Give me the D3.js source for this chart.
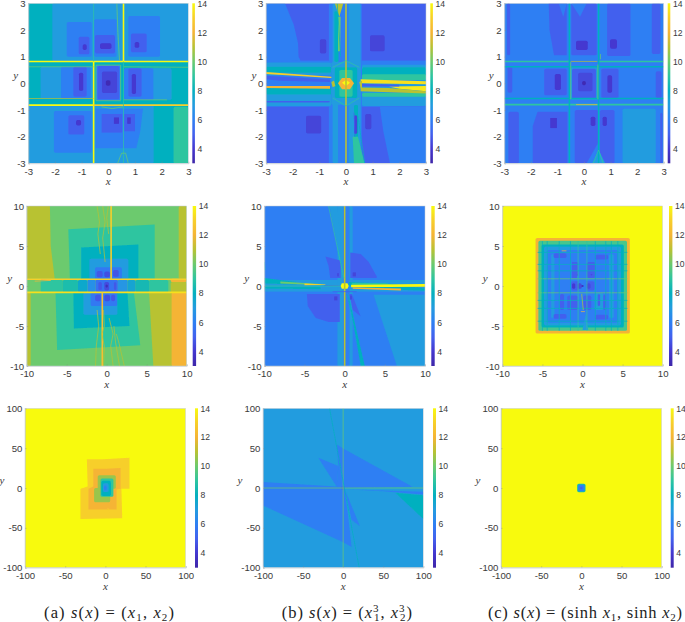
<!DOCTYPE html>
<html><head><meta charset="utf-8">
<script src="https://cdn.jsdelivr.net/npm/d3@7/dist/d3.min.js"></script>
<style>html,body{margin:0;padding:0;background:#fff}svg{display:block}</style>
</head><body><svg id="c" width="685" height="622"></svg>
<script>
// value -> colour (parula-like)
const colorValues=[3,4,5,6,7,8,9,10,11,12,13,14];
const colorStops=["#3e26a8","#4437d0","#4361ee","#2e7ff3","#239cdf","#04b0bf","#2ec5a0","#6cca6e","#b8c233","#f5b436","#f7cf2a","#f8fa0f"];
const colorTicks=[4,6,8,10,12,14];
const ticksSmall=[-3,-2,-1,0,1,2,3], ticksMid=[-10,-5,0,5,10], ticksBig=[-100,-50,0,50,100];

// Each region: [level, x0, x1, y0, y1]; each polygon: [level, points]; each line: [level, points]
const a1Rects=[[8,-3,3,-3,3],[7,-2.1,3,.82,3],[6,-1.56,-.62,1,2.3],[6,-.54,.31,1,2.4],[6,.75,1.94,1,2.52],[5,-1.11,-.71,1.09,1.75],[5,-.5,.25,1.12,1.81],[5,.85,1.44,1.16,1.87],[4,-.96,-.81,1.25,1.46],[4,-.31,.12,1.29,1.5],[4,.99,1.16,1.33,1.55],
[7,-2.54,-.55,-.57,.62],[6,-1.77,-.66,-.57,.62],[5,-1.31,-.81,-.5,.62],[4,-1.1,-.94,-.28,.4],[6,-.46,.46,-.65,.68],[5,-.4,.41,-.6,.65],[4.3,-.24,.33,-.36,.44],[3.3,-.09,.08,-.09,.11],
[7,.59,2.37,-.62,.56],[6,.59,1.69,-.62,.56],[5,.75,1.25,-.5,.56],[4,.88,1.04,-.4,.35],
[7,-3,1.7,-3,-.82],[9,2.45,3,-3,-.88],[6,-2.04,-.62,-2.6,-1.04],[5,-1.5,-.9,-1.92,-1.2],[4,-1.21,-1.02,-1.58,-1.38]];
const a1Polys=[[6,[[-.48,-.95],[1.3,-.95],[1.2,-1.8],[1.05,-2.44],[-.48,-2.44]]],[5,[[-.25,-1.15],[.52,-1.15],[.52,-1.85],[-.25,-1.85]]],[5,[[.6,-1.15],[1,-1.15],[1,-1.8],[.6,-1.8]]],[4,[[.21,-1.28],[.4,-1.28],[.4,-1.52],[.21,-1.52]]],[4,[[.71,-1.28],[.84,-1.28],[.84,-1.52],[.71,-1.52]]]];
const a1Thick=[[14,[[-3,.82],[3,.82]]],[14,[[-3,-.82],[-.55,-.82]]],[13,[[.55,-.82],[3,-.82]]],[14,[[.57,3],[.57,.82]]],[14,[[-.55,.82],[-.55,-3]]],[13,[[-.55,-.82],[.55,-.82]]]];
const a1Thin=[[10,[[-3,.62],[-.55,.62]]],[10,[[.57,.62],[3,.6]]],[11,[[-3,-.57],[-.55,-.57]]],[10,[[.57,-.62],[2.2,-.62]]],[9,[[-.55,3],[-.55,.82]]],[9,[[.57,.82],[.57,-3]]],[10,[[.32,3],[.36,1.9],[.42,.85]]],[10,[[-.46,.68],[.46,.68],[.46,-.65],[-.46,-.65],[-.46,.68]]],[10,[[.35,-3],[.5,-2.62],[.65,-2.62],[.75,-3]]],[10,[[-.25,-.88],[.15,-.95],[.55,-.88]]]];
const a1Inner=[];

const a2Rects=[[5,-3,3,-3,3],[6,-3,3,-.88,.85],[6,-.64,.59,-3,3],[7,-.5,-.3,-3,3],[7,.1,.55,-3,3],[8,-.44,-.28,.8,2.7],[8,.3,.45,-3,-.8],[7,-3,-.55,.3,.78],[8,-3,-.55,.4,.62],[7,.6,3,-.85,.7],[8,.6,3,.2,.6],[9,.6,3,.12,.34],[7,-3,-.55,-.85,-.2],[8,-3,-.55,-.42,-.18],[9,.6,3,-.5,-.36],[4.3,-.98,-.74,1.12,1.65],[4.3,.9,1.45,1.2,1.8],[4.3,-1.5,-.93,-1.88,-1.22],[4.3,.72,.95,-1.72,-1.15],[4.3,.3,.42,-1.9,-1.2],[5,-3,-.6,-.72,-.66],[7,-.55,.55,-.8,.8],[8,-.42,.42,-.55,.6],[9,-.25,.25,-.5,.5]];
const a2Polys=[[6,[[-3,3],[-2.29,3],[-1.96,2.2],[-1.8,1.5],[-1.78,1],[-1.7,.85],[-3,.82]]],[6,[[1.27,-.88],[1.4,-1.8],[1.65,-3],[3,-3],[3,-.88]]],[11,[[-.42,3],[-.1,3],[-.25,2.5]]],[9,[[.3,-3],[.7,-3],[.45,-2],[.25,-2]]],[10,[[-.3,2.5],[-.2,2.5],[-.22,1.2],[-.3,1.2]]],[13,[[-3,.35],[-.55,.2],[-.55,.25],[-3,.42]]],[5,[[-3,.28],[-.6,.14],[-.6,.05],[-2.5,.1],[-3,.15]]],[13.4,[[.55,.15],[3,.08],[3,-.04],[.55,0]]],[13.6,[[1.6,-.12],[3,-.1],[3,-.3],[2,-.2]]],[5,[[.6,-.02],[2,-.05],[2,-.12],[.6,-.12]]],[11,[[.55,-.16],[1.6,-.18],[3,-.3],[3,-.38],[.55,-.3]]],[12,[[-3,-.1],[-.6,-.1],[-.6,-.2],[-3,-.18]]],[11,[[-.55,.05],[-.5,-.15],[-.4,-.1],[-.45,.1]]],[11,[[.5,.05],[.55,-.2],[.6,-.15],[.6,.1]]],[12,[[-.3,0],[-.15,.2],[.15,.2],[.3,0],[.15,-.22],[-.15,-.22]]],[14,[[-.15,.02],[0,.12],[.15,.02],[0,-.1]]]];
const a2Thick=[[11,[[0,3],[0,-3]]]];
const a2Thin=[[8,[[-.33,3],[-.2,1]]],[8,[[.4,-.9],[.7,-3]]],[9,[[-.5,.6],[0,.85],[.5,.6]]],[9,[[-.5,-.55],[0,-.85],[.5,-.55]]],[5,[[.3,-1.1],[.34,-2]]]];
const a2Inner=[];

const a3Rects=[[6,-3,3,-3,3],[5,-2.9,-2.78,1.05,3],[5,-.48,.48,1.05,3],[5,.87,1.75,1.02,3],[5,2.55,2.88,1.1,3],[4,-.95,-.78,1.22,1.52],[4,-.3,.14,1.25,1.6],[4,.98,1.24,1.3,1.65],[5,-2.88,-2.7,-.35,.62],[5,-1.5,-.65,-.45,.55],[4,-1.1,-.87,-.25,.35],[7,-.52,.52,-.62,.6],[5,-.45,.45,-.58,.55],[4.4,-.22,.32,-.3,.4],[3.3,-.07,.07,-.07,.09],[5,.65,1.3,-.55,.55],[4,.88,1.06,-.35,.3],[5,2.7,2.92,-.55,.45],[5,-2.85,-2.45,-3,-1.07],[5,-.35,.55,-3,-1],[5,.6,1.15,-3,-1],[4,.25,.43,-1.6,-1.25],[4,.7,.86,-1.6,-1.25],[7,1.45,2.7,-3,-.95],[5,2.87,2.95,-3,-1.1]];
const a3Polys=[[5,[[-1.33,3],[-.65,3],[-.65,1.05],[-1.13,1.05],[-1.3,2]]],[6,[[-.95,3],[-.65,3],[-.78,2.5]]],[6,[[-.48,3],[.1,3],[-.15,2.5]]],[5,[[-1.93,-3],[-.62,-3],[-.62,-1.07],[-1.75,-1.07],[-1.93,-1.6]]],[4,[[-1.27,-1.3],[-1.02,-1.3],[-1.02,-1.68],[-1.27,-1.68]]],[6,[[.1,-3],[.55,-2.2],[.55,-3]]],[7,[[.3,-3],[.55,-2.5],[.8,-3]]],[6,[[-.05,-3],[.1,-2]]]];
const a3Thick=[[9,[[-3,.82],[-.55,.82]]],[9,[[.55,.82],[3,.82]]],[9,[[-3,-.8],[3,-.8]]],[8,[[-3,.62],[3,.62]]],[8,[[-3,-.57],[3,-.57]]],[8,[[-.55,3],[-.55,-3]]],[8,[[.55,3],[.55,-3]]]];
const a3Thin=[[11,[[-.5,.82],[.5,.82]]],[12,[[-.3,-.8],[.5,-.8]]],[10,[[-.5,.8],[-.5,-.6]]],[10,[[.52,.7],[.52,-.6]]],[10,[[.62,1.1],[.62,.9]]],[9,[[.55,-2.5],[.35,-3]]],[9,[[.55,-2.5],[.72,-3]]]];
const a3Inner=[];

const b1Rects=[[10,-10,10,-10,10],[11,-10,-9.5,-10,-.8],[11,9,10,.9,10],[12,8.05,10,-10,-.8],[12,8,10,.5,.9],[11,8,10,-.8,.5],[9,-8.25,-5.5,-.8,.75],[8.6,-5.5,-3.6,-.8,.75],[9,5.3,7.7,-.8,.75],[8.4,3.6,5.3,-.8,.75],[7.6,-3.6,-2.4,-.8,.75],[7.4,2.6,3.6,-.8,.75],[6.6,-2.4,-1.4,-.8,.8],[6.8,1.4,2.6,-.8,.8],[5.6,-1.4,1.4,-.8,.8],[4.8,-1.05,-.6,-.5,.5],[4.5,-.3,.3,-.55,.5],[4.8,.9,1.2,-.5,.5],[3.4,-.15,.15,-.2,.2]];
const b1Polys=[[11,[[-10,10],[-7.1,10],[-7,5],[-6.5,.9],[-10,.9]]],[11,[[5.3,-.8],[8.1,-.8],[8.1,-10],[5.83,-10]]],[9,[[-4.8,7.1],[6,7.7],[6,.9],[-4.6,.9]]],[8,[[-3.2,4.8],[3.96,5.2],[3.96,.9],[-3.2,.9]]],[9,[[-6.4,-.8],[3.4,-.8],[4.2,-7.4],[-6.2,-8]]],[8,[[-4.17,-.8],[2.6,-.8],[2.85,-5],[-4.1,-5.3]]]];
const b1Inner=[[7,-2.17,2.7,.9,3.4],[5.8,-1.46,1.9,.9,2.33],[4.8,-1.25,-.5,1.1,1.87],[4.6,-.3,.4,1.1,1.8],[4.7,.8,1.5,1.15,2],[7,-2.9,1.33,-3.6,-.8],[5.8,-2,1.3,-2.5,-.8],[4.8,-1.45,-.75,-1.9,-1.1],[4.6,-.3,.42,-1.9,-1.1],[4.8,.55,1.05,-1.9,-1.1]];
const b1Thick=[[13,[[-10,.85],[10,.85]]],[13.4,[[-10,-.8],[10,-.8]]],[13,[[.55,10],[.55,.85]]],[12.4,[[-.55,-.8],[-.55,-10]]]];
const b1Thin=[[11,[[-1.2,10],[-.9,8],[-1.1,6.5],[-.8,4]]],[11,[[-.5,10],[-.2,8],[-.5,6],[-.2,3]]],[11,[[.2,10],[0,8.5],[.25,6.5]]],[11,[[-.4,-3],[-.3,-5],[-.6,-6],[-.3,-7.5],[-.4,-10]]],[11,[[.3,-4],[.8,-6],[.5,-7.5],[.8,-10]]],[11,[[1.2,-6],[1.5,-7],[2.2,-10]]],[11,[[.9,-5],[1.1,-7],[1.6,-10]]],[11,[[-1.2,-3],[-1,-5],[-1.3,-7.5],[-1.4,-10]]],[12,[[-9,.6],[-7,.7],[-8.2,.8]]]];

const b2Rects=[[6,-10,10,-10,10],[7,-10,10,-.7,.75],[7,-.9,1,-10,10],[6,-.2,.6,-10,10]];
const b2Polys=[[5,[[.7,4.2],[2,4],[3,3],[4,1.2],[4,1],[.7,1]]],[5,[[-2.4,3.7],[-.5,3.2],[-.5,1],[-1.8,1],[-2,2.5]]],[5,[[-4.7,-1],[-.6,-1],[-.6,-4.5],[-2,-4.5],[-3.6,-4],[-4.6,-2.5]]],[5,[[.6,-1],[.9,-1],[2,-3.8],[1,-3]]],[7,[[3.6,-1.1],[6.5,-10],[10,-10],[10,-1.1]]],[7,[[-1.9,10],[-.9,10],[-.1,1]]],[8,[[.4,-.8],[2,-10],[2.5,-10]]],[4.3,[[1,1.7],[1.4,1.7],[1.4,1.2],[1,1.2]]],[4.3,[[-1.3,-1.3],[-.9,-1.3],[-.9,-1.8],[-1.3,-1.8]]],[4.5,[[-.95,1.2],[-.7,1.2],[-.7,1.6],[-.95,1.6]]],[4.5,[[.65,-1.2],[.9,-1.2],[.9,-1.7],[.65,-1.7]]],[8,[[-10,1],[-6,.5],[-6,.2],[-10,.3]]],[8,[[-10,-.1],[-3,-.1],[-3,-.4],[-10,-.3]]],[8,[[.5,.5],[6,.25],[10,-.3],[10,-.6],[3,-.3],[.5,.1]]],[10,[[-8,.55],[-3,.25],[-3,.1],[-8,.3]]],[5,[[-2.6,.12],[-.6,.08],[-.6,.02],[-2.6,.02]]],[9,[[.9,.4],[5,.35],[6,.2],[.9,.2]]],[14,[[.8,.15],[10,.25],[10,-.1],[.8,-.15]]],[12,[[1,-.2],[7,-.3],[7,-.55],[1,-.35]]],[13,[[-5,.3],[-2.4,.2],[-2.4,.12],[-5,.1]]],[14,[[-.5,0],[-.35,.35],[.35,.35],[.5,0],[.35,-.35],[-.35,-.35]]]];
const b2Thick=[[11,[[0,10],[0,-10]]]];
const b2Thin=[[9,[[-10,0],[-.5,0]]],[9,[[-2,10],[-.1,1]]],[8,[[.3,-1],[2.4,-10]]],[8,[[-10,3],[-9.9,2]]],[5,[[-1.5,-.7],[1.5,-.7]]]];
const b2Inner=[];

const c1Rects=[[14,-10,10,-10,10],[12,-5.85,5.9,-5.95,6],[9.4,-5.5,5.55,-5.6,5.65],[8,-5.1,5.15,-5.2,5.2],[7,-4.8,4.8,-4.9,4.9],[6,-4.4,4.4,-4.6,4.5],[7,1.5,2.6,-3,-.9],[7,-3.9,-3.5,-4,4],[7,3.3,3.9,-4,4],[5,-1.3,-.55,1.2,3],[5,.55,1.6,1,3],[5,-1.9,-.6,-3,-1.2],[5,.1,1.1,-3,-1.2],[5,-2.8,-2.3,-3,-1],[5,1.9,2.2,-2.5,-1],[5,2.6,2.9,-3,-1.1],[5,-1.4,1.5,-.55,.6],[6,-.5,.5,-.7,.7],[4.5,-.6,-.1,-.35,.35],[4.5,.55,1,-.35,.35],[4,-1.3,-.9,-.35,.35],[3.5,-.15,.15,-.12,.12],[4.5,-.9,-.6,1.3,1.5],[4.5,1,1.25,1.3,1.5],[5,-3.6,-2,3.5,4.1],[5,1.6,3.2,3.3,3.9],[5,-3.6,-2,-4.1,-3.5],[5,1.6,3.2,-4.2,-3.6]];
const c1Polys=[[5,[[-1.3,1],[-.7,1],[-.7,3],[-1.3,3]]],[7,[[0,-5.5],[.4,-3.5],[.7,-5.5]]]];
const c1Thick=[];
const c1Thin=[[10,[[-5.6,.9],[5.6,.9]]],[10,[[-5.6,-.85],[5.6,-.85]]],[9,[[.55,5.6],[.55,-5.6]]],[9,[[-.55,5.6],[-.55,-5.6]]],[8,[[-5.6,2.7],[5.6,2.7]]],[8,[[-5.6,-2.8],[5.6,-2.8]]],[8,[[-5.6,4.2],[5.6,4.2]]],[8,[[-5.6,-4.4],[5.6,-4.4]]],[8,[[-2.9,5.6],[-2.9,-5.6]]],[8,[[2.9,5.6],[2.9,-5.6]]],[8,[[-4.4,5.6],[-4.4,-5.6]]],[8,[[4.4,5.6],[4.4,-5.6]]],[8,[[-5,5.6],[-5,-5.6]]],[8,[[3.6,5.6],[3.6,-5.6]]],[8,[[-1.5,5.6],[-1.5,-5.6]]],[8,[[1.6,5.6],[1.6,-5.6]]],[8,[[-5.6,1.9],[5.6,1.9]]],[8,[[-5.6,-1.8],[5.6,-1.8]]],[12,[[-2.6,4.4],[-2,4.4]]],[12,[[-.2,-3.2],[.3,-3.2]]],[11,[[-.1,-1],[.1,-3]]]];
const c1Inner=[];

const d1Rects=[[14,-100,100,-100,100]];
const d1Polys=[[13,[[-23,36],[-3,36],[30,38],[30,-1],[20,-1],[21,-38],[-31,-39],[-31,-1],[-22,2]]],[12,[[-15,24],[1,24],[19,25],[19,-1],[14,-2],[14,-27],[-21,-27],[-21,-1],[-15,2]]]];
const d1Inner=[[10.6,-9.5,13,-1,16],[10.6,-14,6,-18,0],[9,-6,10,-11,12],[8,-5,7,-10,9],[7,-3,4,-5,6],[6,-1.5,1.5,-3,3]];
const d1Thick=[];
const d1Thin=[[13,[[3,-25],[5,-30],[4,-36]]]];

const d2Rects=[[7,-100,100,-100,100]];
const d2Polys=[[6,[[-100,7.5],[-4,1.6],[2,0],[10.6,-74],[-2,-67],[-100,-22]]],[6,[[-8,54.5],[0,49.5],[86.5,1.7],[2,0],[-8,1.7],[-6,27.5]]],[6,[[-31,38],[-6,27.5],[-8,1.7]]],[6,[[2,-1.7],[100,-4.6],[100,-8],[50,-4]]],[6,[[2,-1.7],[21,-48],[10.6,-40]]],[8,[[65,-6],[100,-9],[100,-39]]],[5,[[-2,-2],[2,-2],[2,2],[-2,2]]]];
const d2Thick=[];
const d2Thin=[[10,[[0,100],[0,-100]]],[10,[[-100,0],[100,0]]],[8,[[-17,100],[20,-100]]]];
const d2Inner=[];

const e1Rects=[[14,-100,100,-100,100],[8.4,-5.2,5.2,-5.3,5.3],[6,-4,4,-4,4],[5,-1.6,1.6,-1.6,1.6]];
const e1Polys=[];
const e1Thick=[];
const e1Thin=[];
const e1Inner=[];

const captionA=[["(a) ","n"],["s","i"],["(","n"],["x","i"],[") = (","n"],["x","i"],["1","sub"],[", ","n"],["x","i"],["2","sub"],[")","n"]];
const captionB=[["(b) ","n"],["s","i"],["(","n"],["x","i"],[") = (","n"],["x","i"],["3","sup"],["1","supsub"],[", ","n"],["x","i"],["3","sup"],["2","supsub"],[")","n"]];
const captionC=[["(c) ","n"],["s","i"],["(","n"],["x","i"],[") = (sinh ","n"],["x","i"],["1","sub"],[", sinh ","n"],["x","i"],["2","sub"],[")","n"]];

const panels=[
 {t:3.3,b:163.3,l:28.3,r:188.3,cb:192.3,cw:2.6,yo:12.6,dom:3,ticks:ticksSmall,d:[a1Rects,a1Polys,a1Thick,a1Thin,a1Inner]},
 {t:3.3,b:163.3,l:266,r:426,cb:430.3,cw:2.6,yo:12,dom:3,ticks:ticksSmall,d:[a2Rects,a2Polys,a2Thick,a2Thin,a2Inner]},
 {t:3.3,b:163.3,l:504.3,r:663.7,cb:667.7,cw:2.6,yo:13,dom:3,ticks:ticksSmall,d:[a3Rects,a3Polys,a3Thick,a3Thin,a3Inner]},
 {t:206,b:366,l:26.7,r:186.7,cb:192.7,cw:3.4,yo:17,dom:10,ticks:ticksMid,d:[b1Rects,b1Polys,b1Thick,b1Thin,b1Inner]},
 {t:206,b:366,l:264.3,r:425,cb:431.3,cw:3.4,yo:17.5,dom:10,ticks:ticksMid,d:[b2Rects,b2Polys,b2Thick,b2Thin,b2Inner]},
 {t:206,b:366,l:502.3,r:662.7,cb:669,cw:3.4,yo:17,dom:10,ticks:ticksMid,d:[c1Rects,c1Polys,c1Thick,c1Thin,c1Inner]},
 {t:408.3,b:567.7,l:25,r:185.7,cb:195,cw:3,yo:23,dom:100,ticks:ticksBig,d:[d1Rects,d1Polys,d1Thick,d1Thin,d1Inner]},
 {t:408.3,b:567.7,l:263,r:423.3,cb:433,cw:3,yo:23,dom:100,ticks:ticksBig,d:[d2Rects,d2Polys,d2Thick,d2Thin,d2Inner]},
 {t:408.3,b:567.7,l:501,r:661.7,cb:670.7,cw:3,yo:23,dom:100,ticks:ticksBig,d:[e1Rects,e1Polys,e1Thick,e1Thin,e1Inner]}
];
const color=d3.scaleLinear().domain(colorValues).range(colorStops).clamp(true);
const svg=d3.select("#c");
const defs=svg.append("defs");
const blur=defs.append("filter").attr("id","soft").attr("x","-2%").attr("y","-2%").attr("width","104%").attr("height","104%");
blur.append("feGaussianBlur").attr("stdDeviation",0.4);
const grad=defs.append("linearGradient").attr("id","cbar").attr("x1",0).attr("x2",0).attr("y1",1).attr("y2",0);
grad.selectAll("stop").data(colorValues).join("stop").attr("offset",d=>(d-3)/11).attr("stop-color",d=>color(d));
const FONT="'Liberation Sans',Arial,sans-serif", SERIF="'Liberation Serif',serif", TXT="#3a3a3a";

panels.forEach((p,i)=>{
  const x=d3.scaleLinear().domain([-p.dom,p.dom]).range([p.l,p.r]);
  const y=d3.scaleLinear().domain([-p.dom,p.dom]).range([p.b,p.t]);
  const clip="clip"+i;
  defs.append("clipPath").attr("id",clip).append("rect").attr("x",p.l).attr("y",p.t).attr("width",p.r-p.l).attr("height",p.b-p.t);
  const outer=svg.append("g").attr("clip-path",`url(#${clip})`);
  const g=outer.append("g").attr("filter","url(#soft)");
  const [rects,polys,thick,thin,inner]=p.d;
  const drawRects=(cls,data)=>g.selectAll("rect."+cls).data(data).join("rect").attr("class",cls)
    .attr("x",d=>x(d[1])).attr("width",d=>x(d[2])-x(d[1]))
    .attr("y",d=>y(d[4])).attr("height",d=>y(d[3])-y(d[4]))
    .attr("rx",d=>(d[2]-d[1])>=2*p.dom?0:1.6).attr("fill",d=>color(d[0]));
  drawRects("r",rects);
  const line=d3.line().x(d=>x(d[0])).y(d=>y(d[1]));
  g.selectAll("path.poly").data(polys).join("path").attr("class","poly")
    .attr("d",d=>line(d[1])+"Z").attr("fill",d=>color(d[0]));
  drawRects("ri",inner);
  g.selectAll("path.thick").data(thick).join("path").attr("class","thick")
    .attr("d",d=>line(d[1])).attr("fill","none").attr("stroke",d=>color(d[0])).attr("stroke-width",1.6);
  g.selectAll("path.thin").data(thin).join("path").attr("class","thin")
    .attr("d",d=>line(d[1])).attr("fill","none").attr("stroke",d=>color(d[0])).attr("stroke-width",0.7);

  const ax=svg.append("g").attr("transform",`translate(0,${p.b})`).call(d3.axisBottom(x).tickValues(p.ticks).tickSize(-1.6).tickPadding(4.5).tickFormat(d=>String(d)));
  const ay=svg.append("g").attr("transform",`translate(${p.l},0)`).call(d3.axisLeft(y).tickValues(p.ticks).tickSize(-1.6).tickPadding(2.6).tickFormat(d=>String(d)));
  [ax,ay].forEach(a=>{a.selectAll("text").attr("font-family",FONT).attr("font-size",9.6).attr("fill",TXT);
    a.selectAll("line").attr("stroke","#888").attr("stroke-width",.4);
    a.select(".domain").attr("stroke","#bfc6cc").attr("stroke-width",.5);});
  svg.append("rect").attr("x",p.l).attr("y",p.t).attr("width",p.r-p.l).attr("height",p.b-p.t).attr("fill","none").attr("stroke","#c4ccd2").attr("stroke-width",.5);
  svg.append("text").attr("x",(p.l+p.r)/2).attr("y",p.b+22).attr("text-anchor","middle").attr("font-family",SERIF).attr("font-style","italic").attr("font-size",11).attr("fill",TXT).text("x");
  svg.append("text").attr("x",p.l-p.yo).attr("y",(p.t+p.b)/2-4).attr("text-anchor","middle").attr("font-family",SERIF).attr("font-style","italic").attr("font-size",11).attr("fill",TXT).text("y");
  // colour bar
  const cy=d3.scaleLinear().domain([3,14]).range([p.b,p.t]);
  svg.append("rect").attr("x",p.cb).attr("width",p.cw).attr("y",p.t).attr("height",p.b-p.t).attr("fill","url(#cbar)");
  svg.append("g").selectAll("text").data(colorTicks).join("text")
    .attr("x",p.cb+p.cw+2.6).attr("y",d=>cy(d)+3.2).attr("font-family",FONT).attr("font-size",8.6).attr("fill",TXT).text(d=>d);
});

[[captionA,44,174],[captionB,281.7,412],[captionC,488,682]].forEach(([segs,x0,x1])=>{
  const t=svg.append("text").attr("x",x0).attr("y",618).attr("font-family",SERIF).attr("font-size",16.5).attr("fill","#222")
    .attr("textLength",x1-x0).attr("lengthAdjust","spacing");
  let shift=0;
  segs.forEach(([s,k])=>{
    const target={n:0,i:0,sub:3,sup:-6,supsub:3}[k];
    const ts=t.append("tspan").text(s).attr("dy",target-shift);
    shift=target;
    if(k==="i")ts.attr("font-style","italic");
    if(k==="sub"||k==="sup"||k==="supsub")ts.attr("font-size",11);
    if(k==="supsub")ts.attr("dx",-5.5);
  });
});
</script></body></html>
